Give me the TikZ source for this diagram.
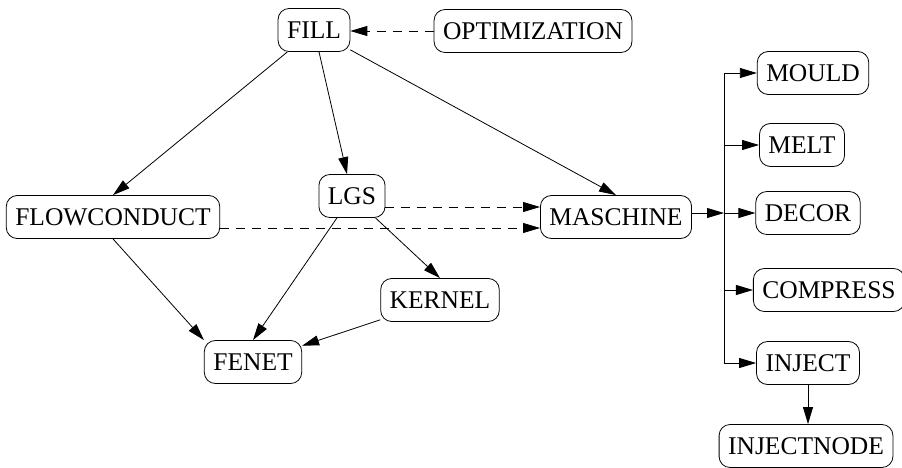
\documentclass[tikz,border=0pt]{standalone}
\usepackage{fontspec}
\setmainfont{Liberation Serif}
\usetikzlibrary{arrows.meta}

\begin{document}
\begin{tikzpicture}[x=1pt,y=1pt,yscale=-1,xscale=1,
  box/.style={draw,rounded corners=11pt,line width=0.8pt,inner xsep=9pt,inner ysep=0pt,minimum height=43pt,font=\fontsize{25.5}{30}\selectfont},
  link/.style={line width=0.8pt,-{Triangle[length=17pt,width=10pt]}},
  dlink/.style={link,dash pattern=on 9pt off 7pt}]
\useasboundingbox (0,0) rectangle (902,468);

% Text Node
\node [box] (fill) at (314,30) {FILL};
% Text Node
\node [box] (optim) at (533,31) {OPTIMIZATION};
% Text Node
\node [box] (flow) at (113,217) {FLOWCONDUCT};
% Text Node
\node [box] (lgs) at (352,196) {LGS};
% Text Node
\node [box] (maschine) at (616,217) {MASCHINE};
% Text Node
\node [box] (kernel) at (440,300) {KERNEL};
% Text Node
\node [box] (fenet) at (253,362) {FENET};
% Text Node
\node [box] (mould) at (813,73) {MOULD};
% Text Node
\node [box] (melt) at (802,145) {MELT};
% Text Node
\node [box] (decor) at (808,213) {DECOR};
% Text Node
\node [box] (compress) at (829,290) {COMPRESS};
% Text Node
\node [box] (inject) at (808,363) {INJECT};
% Text Node
\node [box] (injnode) at (806,446) {INJECTNODE};

%Bus
\coordinate (bustop) at (724,73);
\coordinate (busbot) at (724,363);
\coordinate (bus) at (724,213);
\draw [line width=0.8pt] (bustop) -- (busbot) ;

%Straight Lines
\draw [dlink] (optim.west) -- (optim.west -| fill.east) ;
\draw [link] (fill) -- (flow.north) ;
\draw [link] (fill) -- (lgs) ;
\draw [link] (fill) -- (maschine.north) ;
\draw [dlink] ([yshift=11pt]lgs.east) -- ([yshift=11pt]lgs.east -| maschine.west) ;
\draw [dlink] ([yshift=11pt]flow.east) -- ([yshift=11pt]flow.east -| maschine.west) ;
\draw [link] (flow.south) -- (fenet.north west) ;
\draw [link] (lgs) -- (fenet.north) ;
\draw [link] (lgs) -- (kernel.north) ;
\draw [link] (kernel) -- (fenet) ;
\draw [link] (maschine.east |- bus) -- (bus) ;

%Bus Arrows
\foreach \n in {mould,melt,decor,compress,inject}
  \draw [link] (bus |- \n) -- (\n.west) ;
\draw [link] (inject.south) -- (inject.south |- injnode.north) ;
\end{tikzpicture}
\end{document}
